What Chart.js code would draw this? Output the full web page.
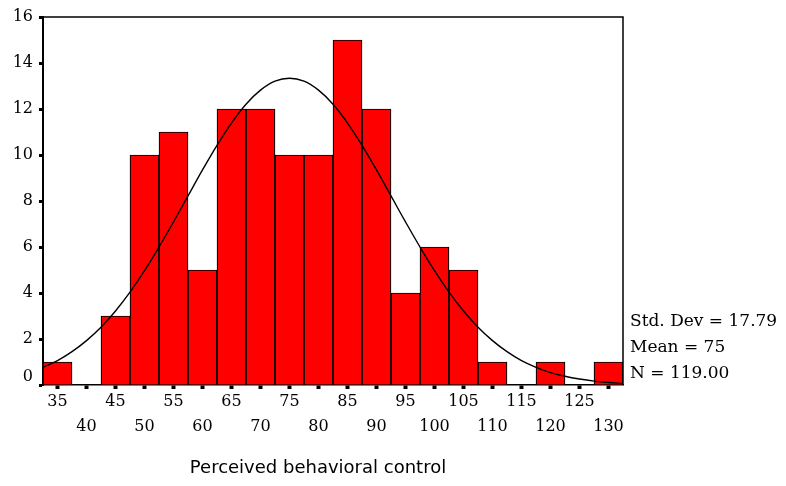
<!DOCTYPE html>
<html lang="en">
  <head>
    <meta charset="UTF-8" />
    <title>Perceived behavioral control - Histogram</title>
    <style>
      body {
        margin: 0;
        background: #fff;
      }
      #wrap {
        width: 786px;
        height: 486px;
      }
    </style>
    <script src="https://cdn.jsdelivr.net/npm/chart.js"></script>
  </head>
  <body>
    <div id="wrap"><canvas id="histChart"></canvas></div>

    <script>
      // bin midpoints and counts
      const binCenters = [35, 40, 45, 50, 55, 60, 65, 70, 75, 80, 85, 90, 95, 100, 105, 110, 115, 120, 125, 130];
      const counts = [1, 0, 3, 10, 11, 5, 12, 12, 10, 10, 15, 12, 4, 6, 5, 1, 0, 1, 0, 1];

      // normal curve
      const curveX = [32.5, 35, 37.5, 40, 42.5, 45, 47.5, 50, 52.5, 55, 57.5, 60, 62.5, 65, 67.5, 70, 72.5, 75,
        77.5, 80, 82.5, 85, 87.5, 90, 92.5, 95, 97.5, 100, 102.5, 105, 107.5, 110, 112.5, 115, 117.5, 120,
        122.5, 125, 127.5, 130, 132.5];
      const curveY = [0.77, 1.06, 1.45, 1.93, 2.51, 3.22, 4.04, 4.97, 6.0, 7.09, 8.22, 9.35, 10.42, 11.39, 12.21, 12.82, 13.21, 13.34,
        13.21, 12.82, 12.21, 11.39, 10.42, 9.35, 8.22, 7.09, 6.0, 4.97, 4.04, 3.22, 2.51, 1.93, 1.45, 1.06, 0.77, 0.54,
        0.38, 0.26, 0.17, 0.11, 0.07];

      const yTicks = [0, 2, 4, 6, 8, 10, 12, 14, 16];
      const statsText = ["Std. Dev = 17.79", "Mean = 75", "N = 119.00"];
      const xTitle = "Perceived behavioral control";

      const extras = {
        id: "extras",
        afterDraw(chart) {
          const { ctx, chartArea } = chart;
          ctx.save();
          ctx.strokeStyle = "#000";
          ctx.lineWidth = 1.5;
          ctx.beginPath();
          ctx.moveTo(chartArea.left, chartArea.top);
          ctx.lineTo(chartArea.right, chartArea.top);
          ctx.lineTo(chartArea.right, chartArea.bottom);
          ctx.stroke();

          ctx.fillStyle = "#000";
          ctx.font = "17px 'DejaVu Serif'";
          ctx.textAlign = "left";
          ctx.textBaseline = "middle";
          statsText.forEach((t, i) => ctx.fillText(t, 630, 322 + i * 26));

          ctx.font = "18px 'DejaVu Sans'";
          ctx.textAlign = "center";
          ctx.fillText(xTitle, 318, 468);
          ctx.restore();
        },
      };

      new Chart(document.getElementById("histChart").getContext("2d"), {
        type: "bar",
        data: {
          datasets: [
            {
              type: "line",
              data: curveX.map((x, i) => ({ x: x, y: curveY[i] })),
              borderColor: "#000",
              borderWidth: 1.4,
              pointRadius: 0,
              tension: 0.4,
              order: 0,
            },
            {
              data: binCenters.map((x, i) => ({ x: x, y: counts[i] })),
              backgroundColor: "#ff0000",
              borderColor: "#000",
              borderWidth: 1.2,
              borderSkipped: "bottom",
              barPercentage: 1,
              categoryPercentage: 1,
              order: 1,
            },
          ],
        },
        options: {
          responsive: true,
          maintainAspectRatio: false,
          animation: false,
          layout: { padding: { top: 17, right: 163, left: 0, bottom: 0 } },
          plugins: { legend: { display: false }, tooltip: { enabled: false } },
          scales: {
            x: {
              type: "linear",
              min: 32.5,
              max: 132.5,
              offset: false,
              afterFit: (s) => { s.height = 101; },
              afterBuildTicks: (s) => { s.ticks = binCenters.map((v) => ({ value: v })); },
              border: { color: "#000", width: 1.5 },
              grid: { offset: false, drawOnChartArea: false, color: "#000", tickLength: 4, tickWidth: 4 },
              ticks: {
                autoSkip: false,
                maxRotation: 0,
                padding: 0,
                color: "#000",
                font: { family: "'DejaVu Serif'", size: 16, lineHeight: 1.5625 },
                callback: (v) => {
                  const i = binCenters.indexOf(v);
                  return i % 2 === 0 ? [String(v)] : ["", String(v)];
                },
              },
            },
            y: {
              min: 0,
              max: 16,
              afterFit: (s) => { s.width = 43; },
              afterBuildTicks: (s) => { s.ticks = yTicks.map((v) => ({ value: v })); },
              border: { color: "#000", width: 2 },
              grid: { drawOnChartArea: false, color: "#000", tickLength: 4, tickWidth: 3 },
              ticks: {
                padding: 6,
                color: "#000",
                font: { family: "'DejaVu Serif'", size: 16, lineHeight: 1 },
                callback: (v) => (v === 0 ? ["0", ""] : String(v)),
              },
            },
          },
        },
        plugins: [extras],
      });
    </script>
  </body>
</html>
